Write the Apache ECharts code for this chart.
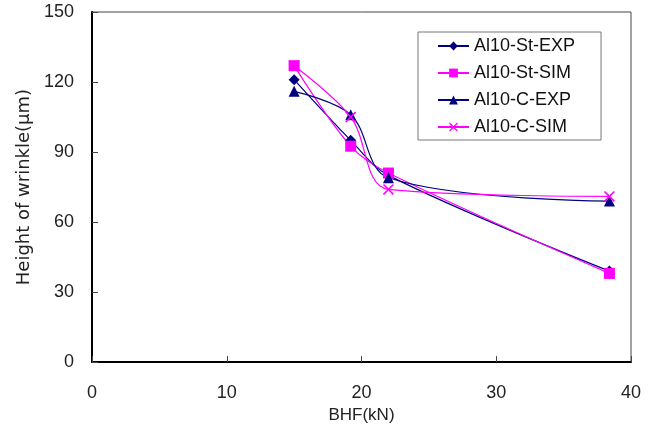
<!DOCTYPE html>
<html>
<head>
<meta charset="utf-8">
<script src="https://cdn.jsdelivr.net/npm/echarts@6/dist/echarts.min.js"></script>
<style>
  html, body { margin: 0; padding: 0; background: #fff; }
  #chart { width: 658px; height: 429px; }
</style>
</head>
<body>
<div id="chart"></div>
<script>
var chart = echarts.init(document.getElementById('chart'));

// 데이터 (BHF, 주름 높이)
var bhf = [15.0, 19.2, 22.0, 38.4];
var stExp = [121, 95, 80, 39];
var stSim = [127, 92.5, 81, 38];
var cExp = [116, 106, 79, 69];
var cSim = [127, 105, 74, 71];
var seriesNames = ['Al10-St-EXP', 'Al10-St-SIM', 'Al10-C-EXP', 'Al10-C-SIM'];

function pairs(ys) {
    return bhf.map(function (x, i) { return [x, ys[i]]; });
}

var crossPath = 'path://M0,1L1,0L5,4L9,0L10,1L6,5L10,9L9,10L5,6L1,10L0,9L4,5Z';

var font = 'Liberation Sans, Arial, sans-serif';

var option = {
    animation: false,
    grid: {
        left: 92, right: 27, top: 12, bottom: 66,
        show: true,
        borderColor: '#444',
        borderWidth: 1
    },
    legend: {
        orient: 'vertical',
        left: 418, top: 32,
        padding: [5, 26, 4, 19],
        itemWidth: 31, itemHeight: 11,
        itemGap: 9,
        itemTextGap: 6,
        borderColor: '#777', borderWidth: 1,
        textStyle: { fontFamily: font, fontSize: 18, color: '#111' },
        data: seriesNames
    },
    xAxis: {
        type: 'value',
        min: 0, max: 40, interval: 10,
        name: 'BHF(kN)',
        nameLocation: 'middle',
        nameGap: 37,
        nameTextStyle: { fontFamily: font, fontSize: 17, color: '#222' },
        axisLine: { onZero: false, lineStyle: { color: '#000', width: 2 } },
        axisTick: { inside: true, length: 6, lineStyle: { color: '#444' } },
        axisLabel: { fontFamily: font, fontSize: 18, color: '#222', margin: 22 },
        splitLine: { show: false }
    },
    yAxis: {
        type: 'value',
        min: 0, max: 150, interval: 30,
        name: 'Height of wrinkle(\u03bcm)',
        nameLocation: 'middle',
        nameGap: 59,
        nameTextStyle: { fontFamily: 'DejaVu Sans, sans-serif', fontSize: 18, color: '#222' },
        axisLine: { lineStyle: { color: '#000', width: 2 } },
        axisTick: { inside: true, length: 6, lineStyle: { color: '#444' } },
        axisLabel: { fontFamily: font, fontSize: 18, color: '#222', margin: 18 },
        splitLine: { show: false }
    },
    series: [
        {
            name: seriesNames[0], type: 'line', smooth: 0.35,
            data: pairs(stExp),
            symbol: 'diamond', symbolSize: 11,
            itemStyle: { color: '#000080' },
            lineStyle: { color: '#000080', width: 1.2 }
        },
        {
            name: seriesNames[1], type: 'line', smooth: 0.35,
            data: pairs(stSim),
            symbol: 'rect', symbolSize: 11,
            itemStyle: { color: '#ff00ff' },
            lineStyle: { color: '#ff00ff', width: 1.2 }
        },
        {
            name: seriesNames[2], type: 'line', smooth: 0.35,
            data: pairs(cExp),
            symbol: 'triangle', symbolSize: 11,
            itemStyle: { color: '#000080' },
            lineStyle: { color: '#000080', width: 1.2 }
        },
        {
            name: seriesNames[3], type: 'line', smooth: 0.35,
            data: pairs(cSim),
            symbol: crossPath, symbolSize: 11,
            itemStyle: { color: '#ff00ff' },
            lineStyle: { color: '#ff00ff', width: 1.2 }
        }
    ]
};

chart.setOption(option);
</script>
</body>
</html>
